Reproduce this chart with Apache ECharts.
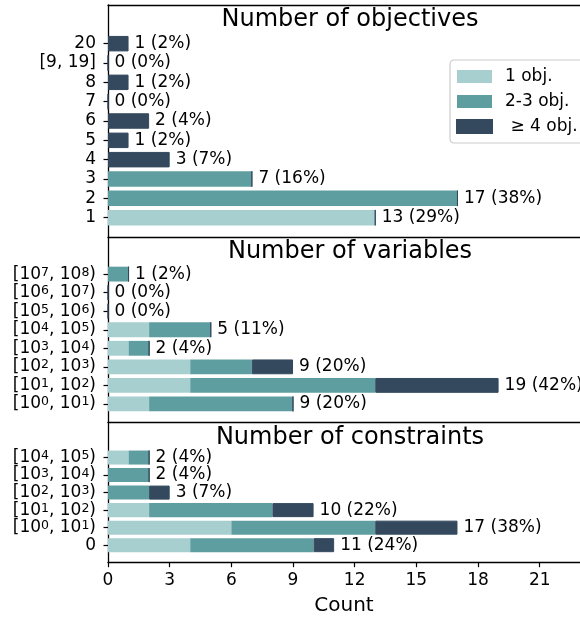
<!DOCTYPE html>
<html>
<head>
<meta charset="utf-8">
<script src="https://cdn.jsdelivr.net/npm/echarts@6/dist/echarts.min.js"></script>
<style>
  html, body { margin: 0; padding: 0; background: #fff; }
  #chart { width: 580px; height: 618px; }
</style>
</head>
<body>
<div id="chart"></div>
<script>
// categories are listed bottom to top
const objCats = ['1', '2', '3', '4', '5', '6', '7', '8', '[9, 19]', '20']
const objOne = [13, 0, 0, 0, 0, 0, 0, 0, 0, 0]
const objTwoThree = [0, 17, 7, 0, 0, 0, 0, 0, 0, 0]
const objFour = [0, 0, 0, 3, 1, 2, 0, 1, 0, 1]

const varCats = ['[10^0, 10^1)', '[10^1, 10^2)', '[10^2, 10^3)', '[10^3, 10^4)',
  '[10^4, 10^5)', '[10^5, 10^6)', '[10^6, 10^7)', '[10^7, 10^8)']
const varOne = [2, 4, 4, 1, 2, 0, 0, 0]
const varTwoThree = [7, 9, 3, 1, 3, 0, 0, 1]
const varFour = [0, 6, 2, 0, 0, 0, 0, 0]

const conCats = ['0', '[10^0, 10^1)', '[10^1, 10^2)', '[10^2, 10^3)', '[10^3, 10^4)', '[10^4, 10^5)']
const conOne = [4, 6, 2, 0, 0, 1]
const conTwoThree = [6, 7, 6, 2, 2, 1]
const conFour = [1, 4, 2, 1, 0, 0]

const panelTitles = ['Number of objectives', 'Number of variables', 'Number of constraints']
const seriesNames = ['1 obj.', '2-3 obj.', ' \u2265 4 obj.']
const colors = ['#a8cfd0', '#5f9ea0', '#34495e']

const xTicks = [0, 3, 6, 9, 12, 15, 18, 21]

const font = 'DejaVu Sans'
const textColor = '#000'
const spine = { color: '#000', width: 1.3 }

// grid geometry (px); the plot runs off the right edge of the picture
const plotLeft = 108
const plotWidth = 472
const xMax = 22.96
const panelTops = [5, 237, 422.5]
const panelHeights = [232, 185.5, 140.2]

function pad(arr) {
  return [null, ...arr, null, null]
}

function richLabel(s) {
  if (s === '') return ''
  if (s.indexOf('^') < 0) return '{n|' + s + '}'
  // "[10^a, 10^b)" -> rich text with superscripts
  const m = s.match(/^\[10\^(\d+), 10\^(\d+)\)$/)
  return '{n|[10}{s|' + m[1] + '}{n|, 10}{s|' + m[2] + '}{n|)}'
}

const panels = [
  { cats: objCats, data: [objOne, objTwoThree, objFour] },
  { cats: varCats, data: [varOne, varTwoThree, varFour] },
  { cats: conCats, data: [conOne, conTwoThree, conFour] }
]

const grids = []
const xAxes = []
const yAxes = []
const series = []
const titles = []

panels.forEach((p, i) => {
  const totals = p.cats.map((_, k) => p.data[0][k] + p.data[1][k] + p.data[2][k])
  const grand = totals.reduce((a, b) => a + b, 0)
  const isLast = i === panels.length - 1

  grids.push({
    left: plotLeft, width: plotWidth, top: panelTops[i], height: panelHeights[i], show: false
  })

  titles.push({
    text: panelTitles[i], left: 350, top: panelTops[i] + 3, textAlign: 'center', padding: 0,
    textStyle: { fontFamily: font, fontSize: 24, fontWeight: 'normal', color: textColor }
  })

  xAxes.push({
    gridIndex: i, type: 'value', min: 0, max: xMax, interval: 3, position: 'bottom',
    axisLine: { show: true, lineStyle: spine },
    splitLine: { show: false },
    axisTick: { show: isLast, length: 4.5, lineStyle: { color: '#000', width: 1.2 } },
    axisLabel: {
      show: isLast, margin: 9, fontFamily: font, fontSize: 17, color: textColor,
      showMaxLabel: false,
      formatter: v => (xTicks.indexOf(v) >= 0 ? String(v) : '')
    },
    name: isLast ? 'Count' : '',
    nameLocation: 'middle', nameGap: 33,
    nameTextStyle: { fontFamily: font, fontSize: 20, color: textColor }
  })

  const padCats = ['', ...p.cats, '', '']
  yAxes.push({
    gridIndex: i, type: 'category', data: padCats, boundaryGap: false,
    axisLine: { show: true, lineStyle: spine },
    splitLine: { show: false },
    axisTick: {
      show: true, length: 4.5, lineStyle: { color: '#000', width: 1.2 },
      interval: (idx, val) => val !== ''
    },
    axisLabel: {
      margin: 12, fontFamily: font, fontSize: 17, color: textColor, lineHeight: 16.5,
      hideOverlap: false, showMinLabel: true, showMaxLabel: true,
      interval: (idx, val) => val !== '',
      formatter: v => richLabel(v),
      rich: {
        n: { fontFamily: font, fontSize: 17, lineHeight: 16.5, color: textColor },
        s: { fontFamily: font, fontSize: 12.5, lineHeight: 8.5, color: textColor, verticalAlign: 'top' }
      }
    }
  })

  p.data.forEach((vals, j) => {
    const s = {
      name: seriesNames[j], type: 'bar', stack: 'panel' + i,
      xAxisIndex: i, yAxisIndex: i,
      barWidth: '80%',
      data: pad(vals),
      itemStyle: { color: colors[j] },
      emphasis: { disabled: true },
      animation: false
    }
    if (j === 2) {
      s.itemStyle.borderColor = colors[2]
      s.itemStyle.borderWidth = 1
      s.label = {
        show: true, position: 'right', distance: 6,
        fontFamily: font, fontSize: 17, color: textColor,
        formatter: prm => {
          const k = prm.dataIndex - 1
          if (k < 0 || k >= totals.length) return ''
          return totals[k] + ' (' + Math.round(totals[k] / grand * 100) + '%)'
        }
      }
    }
    series.push(s)
  })
})

// top spine of the first panel
xAxes.push({
  gridIndex: 0, type: 'value', min: 0, max: xMax, position: 'top',
  axisLine: { show: true, lineStyle: spine },
  axisTick: { show: false }, axisLabel: { show: false }, splitLine: { show: false }
})

const chart = echarts.init(document.getElementById('chart'), null, { renderer: 'canvas' })
chart.setOption({
  animation: false,
  title: titles,
  grid: grids,
  xAxis: xAxes,
  yAxis: yAxes,
  legend: {
    data: seriesNames,
    orient: 'vertical',
    left: 450, top: 60,
    padding: [8, 8, 8, 6],
    itemWidth: 35, itemHeight: 13, itemGap: 8,
    icon: 'rect',
    borderColor: '#cccccc', borderWidth: 1.2, borderRadius: 4,
    backgroundColor: 'rgba(255,255,255,0.85)',
    textStyle: { fontFamily: font, fontSize: 17, color: textColor, padding: [0, 0, 0, 8] }
  },
  series: series
})
</script>
</body>
</html>
